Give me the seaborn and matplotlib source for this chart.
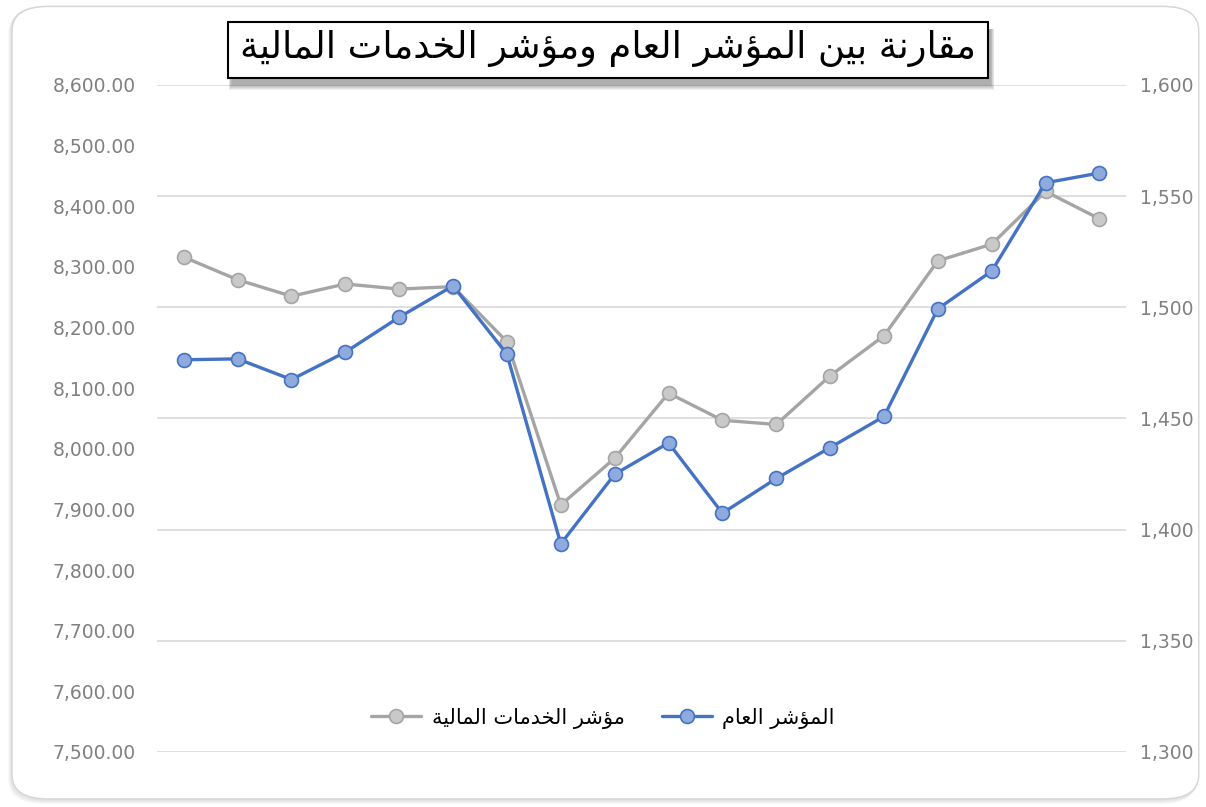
import pandas as pd
import matplotlib
matplotlib.use("Agg")
import matplotlib.pyplot as plt
import seaborn as sns
from matplotlib.patches import FancyBboxPatch, Rectangle
from matplotlib.lines import Line2D
from matplotlib.ticker import FuncFormatter, MultipleLocator

# ==========================
# Data
# ==========================
points = list(range(18))
general_index = [8146.8, 8148.3, 8114.2, 8159.3, 8217.0, 8268.7, 8156.0, 7843.2, 7958.0,
                 8009.7, 7893.8, 7951.0, 8002.0, 8053.3, 8230.8, 8293.1, 8438.7, 8454.8]
financial_index = [1522.6, 1512.4, 1505.0, 1510.5, 1508.2, 1509.3, 1484.5, 1411.1, 1432.1,
                   1461.4, 1449.2, 1447.3, 1469.2, 1487.2, 1520.9, 1528.4, 1552.1, 1539.8]

title = "مقارنة بين المؤشر العام ومؤشر الخدمات المالية"
name_general = "المؤشر العام"
name_financial = "مؤشر الخدمات المالية"

df = pd.DataFrame({"i": points, "general": general_index, "financial": financial_index})

# ==========================
# Simple Arabic shaping (presentation forms + RTL order)
# ==========================
FORMS = {
    "\u0627": ("\uFE8D", "\uFE8E", None, None),
    "\u0628": ("\uFE8F", "\uFE90", "\uFE91", "\uFE92"),
    "\u0629": ("\uFE93", "\uFE94", None, None),
    "\u062A": ("\uFE95", "\uFE96", "\uFE97", "\uFE98"),
    "\u062E": ("\uFEA5", "\uFEA6", "\uFEA7", "\uFEA8"),
    "\u062F": ("\uFEA9", "\uFEAA", None, None),
    "\u0631": ("\uFEAD", "\uFEAE", None, None),
    "\u0634": ("\uFEB5", "\uFEB6", "\uFEB7", "\uFEB8"),
    "\u0639": ("\uFEC9", "\uFECA", "\uFECB", "\uFECC"),
    "\u0642": ("\uFED5", "\uFED6", "\uFED7", "\uFED8"),
    "\u0644": ("\uFEDD", "\uFEDE", "\uFEDF", "\uFEE0"),
    "\u0645": ("\uFEE1", "\uFEE2", "\uFEE3", "\uFEE4"),
    "\u0646": ("\uFEE5", "\uFEE6", "\uFEE7", "\uFEE8"),
    "\u0648": ("\uFEED", "\uFEEE", None, None),
    "\u064A": ("\uFEF1", "\uFEF2", "\uFEF3", "\uFEF4"),
    "\u0624": ("\uFE85", "\uFE86", None, None),
}


def shape(text):
    out = []
    for i, ch in enumerate(text):
        if ch not in FORMS:
            out.append(ch)
            continue
        iso, fin, ini, med = FORMS[ch]
        prev = text[i - 1] if i > 0 else ""
        nxt = text[i + 1] if i + 1 < len(text) else ""
        jp = prev in FORMS and FORMS[prev][2] is not None
        jn = ini is not None and nxt in FORMS
        if jp and jn:
            out.append(med)
        elif jp:
            out.append(fin)
        elif jn:
            out.append(ini)
        else:
            out.append(iso)
    return "".join(reversed(out))


# ==========================
# Figure
# ==========================
sns.set_style("white")
plt.rcParams["font.family"] = ["DejaVu Sans"]

BLUE = "#4472C4"
BLUE_FACE = "#8FAADC"
GRAY = "#A5A5A5"
GRAY_FACE = "#C9C9C9"
TICK = "#808080"

fig = plt.figure(figsize=(12.06, 8.07), dpi=100)
fig.patch.set_facecolor("white")

# outer rounded frame with soft shadow
for k, al in enumerate([0.35, 0.5, 0.7]):
    fig.patches.append(FancyBboxPatch((0.007 + k * 0.001, 0.004 + k * 0.002), 0.985, 0.985,
                                      boxstyle="round,pad=0,rounding_size=0.03",
                                      transform=fig.transFigure, fc="#E0E0E0", ec="none",
                                      alpha=al, zorder=-3))
fig.patches.append(FancyBboxPatch((0.010, 0.010), 0.984, 0.982, boxstyle="round,pad=0,rounding_size=0.03",
                                  transform=fig.transFigure, fc="white", ec="#D6D6D6", lw=1, zorder=-2))

ax = fig.add_axes([0.130, 0.0682, 0.804, 0.8265])
ax2 = ax.twinx()

# financial index on right axis (gridlines belong to it)
sns.lineplot(data=df, x="i", y="financial", ax=ax, color=GRAY, lw=2.4, marker="o", markersize=10,
             markerfacecolor=GRAY_FACE, markeredgecolor=GRAY, markeredgewidth=1.2, zorder=3)
# general index on left axis
sns.lineplot(data=df, x="i", y="general", ax=ax2, color=BLUE, lw=2.4, marker="o", markersize=10,
             markerfacecolor=BLUE_FACE, markeredgecolor=BLUE, markeredgewidth=1.2, zorder=4)

ax.set_xlim(-0.5, len(points) - 0.5)
ax.set_ylim(1300, 1600)
ax.yaxis.set_major_locator(MultipleLocator(50))
ax.yaxis.tick_right()
ax.yaxis.set_label_position("right")
ax.yaxis.set_major_formatter(FuncFormatter(lambda v, p: f"{v:,.0f}"))
ax.grid(axis="y", color="#D9D9D9", lw=1.2)
ax.set_axisbelow(True)

ax2.set_ylim(7500, 8600)
ax2.yaxis.set_major_locator(MultipleLocator(100))
ax2.yaxis.tick_left()
ax2.yaxis.set_label_position("left")
ax2.yaxis.set_major_formatter(FuncFormatter(lambda v, p: f"{v:,.2f}"))

for a in (ax, ax2):
    a.set_xlabel("")
    a.set_ylabel("")
    a.set_xticks([])
    for s in a.spines.values():
        s.set_visible(False)
    a.patch.set_visible(False)
ax.tick_params(axis="y", length=0, pad=10, labelsize=13.5, labelcolor=TICK)
ax2.tick_params(axis="y", length=0, pad=15, labelsize=13.5, labelcolor=TICK)

# ==========================
# Title box with soft shadow
# ==========================
bx, by, bw, bh = 0.189, 0.9033, 0.630, 0.0694
for k in range(6):
    g = 0.0012 * k
    fig.patches.append(Rectangle((bx + 0.003 - g * 0.4, by - 0.009 - g), bw + g * 0.8, bh + g,
                                 transform=fig.transFigure, fc="black", ec="none",
                                 alpha=0.06, zorder=5))
fig.patches.append(Rectangle((bx, by), bw, bh, transform=fig.transFigure, fc="white", ec="black",
                             lw=1.5, zorder=6))
fig.text(bx + bw / 2, by + bh / 2 + 0.002, shape(title), ha="center", va="center", fontsize=26.5,
         color="black", zorder=7)

# ==========================
# Legend
# ==========================
handles = [
    Line2D([], [], color=GRAY, lw=2.4, marker="o", markersize=10, markerfacecolor=GRAY_FACE,
           markeredgecolor=GRAY, markeredgewidth=1.2),
    Line2D([], [], color=BLUE, lw=2.4, marker="o", markersize=10, markerfacecolor=BLUE_FACE,
           markeredgecolor=BLUE, markeredgewidth=1.2),
]
fig.legend(handles, [shape(name_financial), shape(name_general)], loc="center",
           bbox_to_anchor=(0.5, 0.110), ncol=2, frameon=False, fontsize=15, handlelength=2.4,
           handletextpad=0.5, columnspacing=1.8, labelcolor="black")

fig.savefig("out.png", dpi=100)
